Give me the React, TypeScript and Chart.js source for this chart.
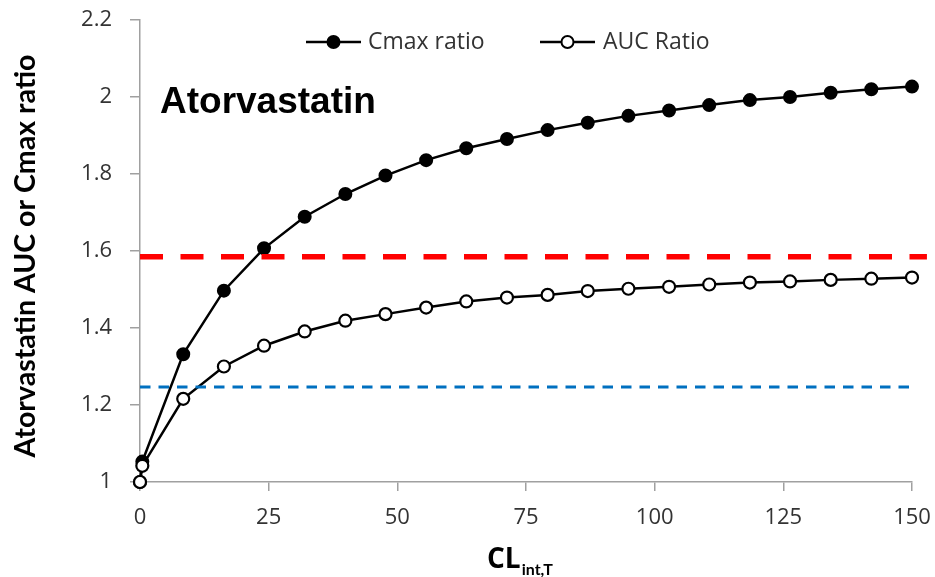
import React, { useEffect, useRef } from 'react';
import { Chart, registerables } from 'chart.js';

Chart.register(...registerables);

// ---- data ----
const clintValues = [0, 0.45, 8.4, 16.3, 24.1, 32.0, 39.9, 47.7, 55.6, 63.4, 71.3, 79.2, 87.0, 94.9, 102.8, 110.6, 118.5, 126.3, 134.2, 142.1, 150];
const cmaxRatio = [1.0, 1.053, 1.332, 1.497, 1.607, 1.689, 1.748, 1.796, 1.836, 1.867, 1.891, 1.914, 1.933, 1.951, 1.965, 1.979, 1.992, 2.0, 2.011, 2.02, 2.027];
const aucRatio = [1.0, 1.042, 1.216, 1.3, 1.354, 1.391, 1.419, 1.436, 1.453, 1.469, 1.479, 1.486, 1.496, 1.502, 1.507, 1.513, 1.518, 1.521, 1.525, 1.528, 1.531];
const redThresholdY = [1.585, 1.585];
const redThresholdX = [0, 152.9];
const blueThresholdY = [1.247, 1.247];
const blueThresholdX = [0, 150];
const seriesLabels = ['Cmax ratio', 'AUC Ratio'];
const xAxisMin = 0;
const xAxisMax = 150;
const xAxisStep = 25;
const yAxisMin = 1;
const yAxisMax = 2.2;
const yAxisStep = 0.2;
const chartTitle = 'Atorvastatin';
const yAxisTitle = 'Atorvastatin AUC or Cmax ratio';
const xAxisTitleMain = 'CL';
const xAxisTitleSub = 'int,T';

const toPoints = (xs: number[], ys: number[]) => xs.map((x, i) => ({ x, y: ys[i] }));

const AXIS_GRAY = '#a0a0a0';
const TEXT_GRAY = '#333333';

const overlayPlugin = {
  id: 'overlayText',
  afterDraw(chart: any) {
    const ctx = chart.ctx;
    ctx.save();
    // Title inside the plot
    ctx.fillStyle = '#000';
    ctx.font = 'bold 37px "Liberation Sans", Arial, sans-serif';
    ctx.textBaseline = 'alphabetic';
    ctx.textAlign = 'left';
    ctx.fillText(chartTitle, 160, 113);

    // X-axis title with subscript
    ctx.font = 'bold 28px "Open Sans", sans-serif';
    const mainW = ctx.measureText(xAxisTitleMain).width;
    ctx.fillText(xAxisTitleMain, 487, 568);
    ctx.font = 'bold 16px Lato, sans-serif';
    ctx.fillText(xAxisTitleSub, 487 + mainW + 1, 575);

    // Y-axis title (rotated)
    ctx.save();
    ctx.translate(26, 256);
    ctx.rotate(-Math.PI / 2);
    ctx.font = 'bold 28.5px Lato, sans-serif';
    ctx.textAlign = 'center';
    ctx.textBaseline = 'middle';
    ctx.fillStyle = '#000';
    ctx.fillText(yAxisTitle, 0, 0);
    ctx.restore();

    // Legend
    const legendY = 42;
    const items = [
      { lineStart: 306, lineEnd: 361, textX: 368, fill: '#000', label: seriesLabels[0] },
      { lineStart: 540, lineEnd: 595, textX: 603, fill: '#fff', label: seriesLabels[1] },
    ];
    items.forEach((it) => {
      ctx.strokeStyle = '#000';
      ctx.lineWidth = 2.5;
      ctx.beginPath();
      ctx.moveTo(it.lineStart, legendY);
      ctx.lineTo(it.lineEnd, legendY);
      ctx.stroke();
      ctx.beginPath();
      ctx.arc((it.lineStart + it.lineEnd) / 2, legendY, 6, 0, Math.PI * 2);
      ctx.fillStyle = it.fill;
      ctx.fill();
      ctx.lineWidth = 2;
      ctx.stroke();
      ctx.fillStyle = TEXT_GRAY;
      ctx.font = '23px "Open Sans", sans-serif';
      ctx.textAlign = 'left';
      ctx.textBaseline = 'middle';
      ctx.fillText(it.label, it.textX, legendY);
    });
    ctx.restore();
  },
};

export default function App() {
  const canvasRef = useRef<HTMLCanvasElement | null>(null);

  useEffect(() => {
    if (!canvasRef.current) return;
    const chart = new Chart(canvasRef.current, {
      type: 'line',
      data: {
        datasets: [
          {
            label: 'red threshold',
            data: toPoints(redThresholdX, redThresholdY),
            borderColor: '#ff0000',
            borderWidth: 5.5,
            borderDash: [23, 17.5],
            borderCapStyle: 'butt',
            pointRadius: 0,
            clip: false,
            order: 0,
          },
          {
            label: 'blue threshold',
            data: toPoints(blueThresholdX, blueThresholdY),
            borderColor: '#0070c0',
            borderWidth: 3,
            borderDash: [10.5, 8],
            borderCapStyle: 'butt',
            pointRadius: 0,
            order: 1,
          },
          {
            label: seriesLabels[1],
            data: toPoints(clintValues, aucRatio),
            borderColor: '#000',
            borderWidth: 2.5,
            pointRadius: 6,
            pointBorderWidth: 2.2,
            pointBackgroundColor: '#fff',
            pointBorderColor: '#000',
            tension: 0,
            clip: false,
            order: 2,
          },
          {
            label: seriesLabels[0],
            data: toPoints(clintValues, cmaxRatio),
            borderColor: '#000',
            borderWidth: 2.5,
            pointRadius: 6,
            pointBorderWidth: 2,
            pointBackgroundColor: '#000',
            pointBorderColor: '#000',
            tension: 0,
            clip: false,
            order: 3,
          },
        ],
      },
      options: {
        responsive: false,
        animation: false,
        layout: { padding: { top: 20, right: 23, left: 0, bottom: 0 } },
        plugins: {
          legend: { display: false },
          tooltip: { enabled: false },
          title: { display: false },
        },
        scales: {
          x: {
            type: 'linear',
            min: xAxisMin,
            max: xAxisMax,
            ticks: {
              stepSize: xAxisStep,
              color: TEXT_GRAY,
              font: { family: '"Open Sans", sans-serif', size: 22 },
              padding: 14,
              maxRotation: 0,
            },
            grid: {
              display: true,
              drawOnChartArea: false,
              drawTicks: true,
              tickLength: 9,
              color: AXIS_GRAY,
              lineWidth: 1.5,
            },
            border: { display: true, color: AXIS_GRAY, width: 1.5 },
            afterFit: (scale: any) => {
              scale.height = 95;
              scale.paddingLeft = 0;
              scale.paddingRight = 0;
            },
          },
          y: {
            type: 'linear',
            min: yAxisMin,
            max: yAxisMax,
            ticks: {
              stepSize: yAxisStep,
              color: TEXT_GRAY,
              font: { family: '"Open Sans", sans-serif', size: 22 },
              padding: 18,
              callback: (v: any) => String(Number(Number(v).toFixed(1))),
            },
            grid: {
              display: true,
              drawOnChartArea: false,
              drawTicks: true,
              tickLength: 10,
              color: AXIS_GRAY,
              lineWidth: 1.5,
            },
            border: { display: true, color: AXIS_GRAY, width: 1.5 },
            title: { display: false },
            afterFit: (scale: any) => {
              scale.width = 140;
              scale.paddingTop = 0;
              scale.paddingBottom = 0;
            },
          },
        },
      },
      plugins: [overlayPlugin],
    } as any);
    return () => chart.destroy();
  }, []);

  return (
    <div style={{ position: 'absolute', left: 0, top: 0, width: 935, height: 577, background: '#fff' }}>
      <canvas ref={canvasRef} width={935} height={577} style={{ display: 'block' }} />
    </div>
  );
}
